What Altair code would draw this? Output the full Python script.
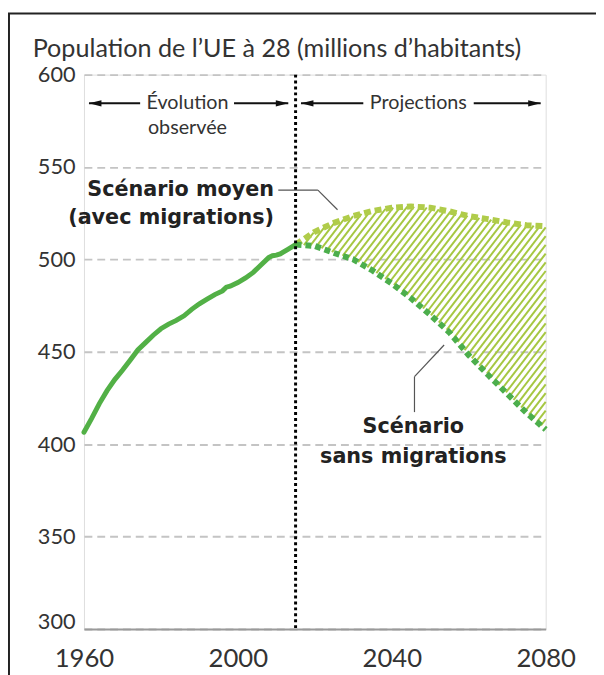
import altair as alt
import pandas as pd
import numpy as np

# ---------------- data ----------------
obs_years = [1960, 1962, 1964, 1966, 1968, 1970, 1972, 1974, 1976, 1978, 1980, 1982,
             1984, 1986, 1988, 1990, 1992, 1994, 1996, 1997, 1998, 2000, 2002, 2004,
             2006, 2008, 2009, 2010, 2011, 2013, 2015]
obs_values = [406.5, 414, 422, 429, 435, 440, 445.5, 451, 455, 459, 462.5, 465,
              467, 469.5, 473, 476, 478.5, 481, 483, 485, 485.5, 487.5, 490, 493,
              497, 501, 502, 502.3, 503, 505.5, 508]

proj_years = [2015, 2020, 2025, 2030, 2035, 2040, 2045, 2050, 2055, 2060, 2065, 2070, 2075, 2080]
with_migration = [508, 515, 519.8, 523.5, 526.2, 528, 528.7, 528, 526, 523.5, 521.8, 520, 518.5, 518]
without_migration = [508, 507.3, 503.5, 500, 494, 487, 479, 470, 460.5, 448.2, 437.6, 427.3, 417, 408]

x_ticks = [1960, 2000, 2040, 2080]
y_ticks = [300, 350, 400, 450, 500, 550, 600]
split_year = 2015

title_text = "Population de l\u2019UE \u00e0 28 (millions d\u2019habitants)"

# ---------------- styling ----------------
FONT = "Lato"
BOLD_FONT = "DejaVu Sans"
TXT = "#333333"
W, H = 468, 562

xs = alt.Scale(domain=[1960, 2080], nice=False, zero=False)
ys = alt.Scale(domain=[300, 600], nice=False, zero=False)

xaxis = alt.Axis(values=x_ticks, format="d", title=None, grid=False, ticks=False,
                 domain=True, domainColor="#9a9a9a", domainWidth=2,
                 labelFont=FONT, labelFontSize=26, labelColor=TXT, labelPadding=17,
                 labelFlush=False, labelOverlap=False, labelBound=False)
yaxis = alt.Axis(values=y_ticks, title=None, domain=False, ticks=False,
                 grid=True, gridColor="#c4c4c4", gridWidth=2, gridDash=[8, 5],
                 labelFont=FONT, labelFontSize=22, labelColor=TXT, labelPadding=9,
                 labelOffset={"condition": {"test": "datum.value == 300", "value": -8}, "value": 0})


def X(f):
    return alt.X(f, type="quantitative", scale=xs, axis=xaxis)


def Y(f):
    return alt.Y(f, type="quantitative", scale=ys, axis=yaxis)


obs_df = pd.DataFrame({"year": obs_years, "value": obs_values})
proj_df = pd.DataFrame({"year": proj_years, "hi": with_migration, "lo": without_migration})

# ---------------- hatch between the two scenarios ----------------
px_per_year = W / 120.0
px_per_unit = H / 300.0
slope = 1.3      # pixel slope of hatch lines
spacing = 6.8    # horizontal pixel spacing
grid_years = np.linspace(proj_years[0], proj_years[-1], 6001)
lo_i = np.interp(grid_years, proj_years, without_migration)
hi_i = np.interp(grid_years, proj_years, with_migration)
gx = (grid_years - 1960) * px_per_year
rows = []
for px0 in np.arange(-600, 1400, spacing):
    ly = 300 + slope * (gx - px0) / px_per_unit
    m = (ly >= lo_i) & (ly <= hi_i)
    if m.sum() > 3:
        idx = np.where(m)[0]
        a, b = idx[0], idx[-1]
        rows.append({"x": grid_years[a], "y": ly[a], "x2": grid_years[b], "y2": ly[b]})
hatch_df = pd.DataFrame(rows)

hatch = alt.Chart(hatch_df).mark_rule(color="#a6c742", strokeWidth=2).encode(
    x=X("x"), y=Y("y"), x2="x2", y2="y2")

upper = alt.Chart(proj_df).mark_line(color="#b0cc4a", strokeWidth=6, strokeDash=[7, 4]).encode(
    x=X("year"), y=Y("hi"))
lower = alt.Chart(proj_df).mark_line(color="#4cae4c", strokeWidth=6, strokeDash=[6, 4]).encode(
    x=X("year"), y=Y("lo"))
observed = alt.Chart(obs_df).mark_line(color="#52b046", strokeWidth=5, strokeCap="round").encode(
    x=X("year"), y=Y("value"))

vline = alt.Chart(pd.DataFrame({"x": [split_year], "y": [600], "y2": [300]})).mark_rule(
    color="black", strokeWidth=3, strokeDash=[3, 3]).encode(x=X("x"), y=Y("y"), y2="y2")

# arrows
arrow_df = pd.DataFrame({
    "x": [1961.3, 1999.0, 2016.4, 2061.3],
    "x2": [1974.6, 2013.1, 2032.6, 2078.7],
    "y": [584.5] * 4,
})
arrows = alt.Chart(arrow_df).mark_rule(color="#111", strokeWidth=2).encode(
    x=X("x"), x2="x2", y=Y("y"))
heads_l = alt.Chart(pd.DataFrame({"x": [1961.3, 2016.4], "y": [584.5, 584.5]})).mark_point(
    shape="M0,0L2,-0.5L2,0.5Z", filled=True, color="#111", size=160, opacity=1).encode(
    x=X("x"), y=Y("y"))
heads_r = alt.Chart(pd.DataFrame({"x": [2013.1, 2078.7], "y": [584.5, 584.5]})).mark_point(
    shape="M0,0L-2,-0.5L-2,0.5Z", filled=True, color="#111", size=160, opacity=1).encode(
    x=X("x"), y=Y("y"))

period_df = pd.DataFrame({"x": [1986.9, 1986.9, 2046.9], "y": [584.5, 571.0, 584.5],
                          "t": ["\u00c9volution", "observ\u00e9e", "Projections"]})
period_txt = alt.Chart(period_df).mark_text(font=FONT, fontSize=20, color=TXT,
                                            align="center", baseline="middle").encode(
    x=X("x"), y=Y("y"), text="t")

# scenario labels
lab_hi = pd.DataFrame({"x": [2009.4, 2009.4], "y": [537.5, 522.6],
                       "t": ["Sc\u00e9nario moyen", "(avec migrations)"]})
lab_hi_txt = alt.Chart(lab_hi).mark_text(font=BOLD_FONT, fontWeight="bold", fontSize=21, color="#222",
                                         align="right", baseline="middle").encode(
    x=X("x"), y=Y("y"), text="t")
lab_lo = pd.DataFrame({"x": [2045.6, 2045.6], "y": [409.4, 392.9],
                       "t": ["Sc\u00e9nario", "sans migrations"]})
lab_lo_txt = alt.Chart(lab_lo).mark_text(font=BOLD_FONT, fontWeight="bold", fontSize=21, color="#222",
                                         align="center", baseline="middle").encode(
    x=X("x"), y=Y("y"), text="t")

leader_df = pd.DataFrame({
    "x": [2010.5, 2020.8, 2045.9, 2045.9],
    "y": [537.5, 537.5, 417.4, 436.6],
    "x2": [2020.8, 2025.9, 2045.9, 2053.6],
    "y2": [537.5, 526.9, 436.6, 453.7],
})
leaders = alt.Chart(leader_df).mark_rule(color="#555", strokeWidth=1.2).encode(
    x=X("x"), y=Y("y"), x2="x2", y2="y2")

title = alt.Chart(pd.DataFrame({"t": [title_text]})).mark_text(
    font=FONT, fontSize=25.5, color=TXT, align="left", baseline="alphabetic").encode(
    x=alt.value(-52), y=alt.value(-18), text="t")

frame_v = alt.Chart(pd.DataFrame({"a": [0]})).mark_rule(color="#222", strokeWidth=2).encode(
    x=alt.value(-76), y=alt.value(-62), y2=alt.value(700))
frame_h = alt.Chart(pd.DataFrame({"a": [0]})).mark_rule(color="#222", strokeWidth=2).encode(
    x=alt.value(-77), x2=alt.value(700), y=alt.value(-62))

chart = alt.layer(
    hatch, upper, lower, observed, vline, arrows, heads_l, heads_r, period_txt,
    lab_hi_txt, lab_lo_txt, leaders, title, frame_v, frame_h
).properties(
    width=W, height=H,
    autosize=alt.AutoSizeParams(type="none"),
    padding={"left": 77, "top": 63, "right": 51, "bottom": 42},
).configure_view(stroke=None).configure(background="white")

chart.save("out.html", embed_options={"renderer": "svg", "actions": False})
